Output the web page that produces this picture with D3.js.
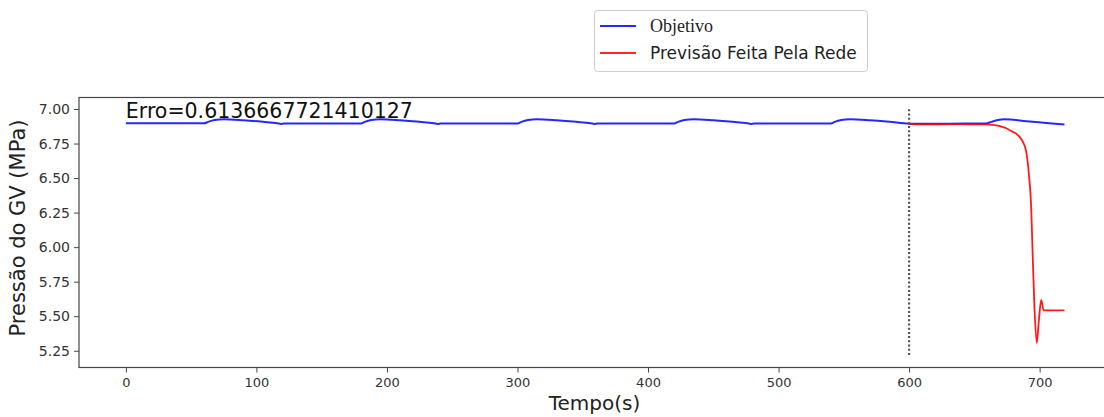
<!DOCTYPE html>
<html>
<head>
<meta charset="utf-8">
<script src="https://cdn.jsdelivr.net/npm/d3@7"></script>
<style>
  html, body { margin: 0; padding: 0; background: #fff; }
  svg { display: block; }
</style>
</head>
<body>
<svg id="chart" width="1104" height="417" font-family="'DejaVu Sans', sans-serif"></svg>
<script>
// Measured steam-generator pressure (target) over time
const objetivoT = [0, 60, 63, 68, 75, 90, 105, 116, 119, 121, 180, 183, 188, 195, 210, 225, 236, 239, 241,
                   300, 303, 308, 315, 330, 345, 356, 359, 361, 420, 423, 428, 435, 450, 465, 476, 479, 481,
                   540, 543, 548, 555, 570, 585, 600, 630, 659, 663, 668, 673, 690, 705, 719];
const objetivoV = [6.896, 6.896, 6.907, 6.920, 6.925, 6.918, 6.907, 6.897, 6.892, 6.895, 6.895, 6.907, 6.920, 6.925, 6.918, 6.907, 6.897, 6.892, 6.895,
                   6.895, 6.907, 6.920, 6.925, 6.918, 6.907, 6.897, 6.892, 6.895, 6.895, 6.907, 6.920, 6.925, 6.918, 6.907, 6.897, 6.892, 6.895,
                   6.895, 6.907, 6.920, 6.925, 6.918, 6.907, 6.894, 6.894, 6.895, 6.907, 6.920, 6.925, 6.912, 6.899, 6.887];

// Network prediction starting at t = 600 s
const previsaoT = [600, 610, 620, 630, 640, 650, 659, 669, 679.4, 684.5, 687.1, 689.7, 691.7, 693.5, 694.7, 696, 697.8, 699.5, 701.2, 703.1, 710, 719];
const previsaoV = [6.892, 6.888, 6.889, 6.890, 6.890, 6.889, 6.888, 6.877, 6.836, 6.800, 6.764, 6.691, 6.535, 6.294, 5.932, 5.570, 5.306, 5.48, 5.619, 5.542, 5.542, 5.542];

const xTicks = [0, 100, 200, 300, 400, 500, 600, 700];
const yTicks = [5.25, 5.50, 5.75, 6.00, 6.25, 6.50, 6.75, 7.00];
const splitTime = 600;
const splitRange = [5.22, 7.005];
const erroLabel = "Erro=0.6136667721410127";
const legendItems = [
  { label: "Objetivo", color: "#0000ff", serif: true },
  { label: "Previsão Feita Pela Rede", color: "#ff0000", serif: false }
];

const svg = d3.select("#chart");
const plot = { left: 79, right: 1110, top: 97.5, bottom: 367.5 };

const x = d3.scaleLinear().domain([-35.9, 753.9]).range([plot.left, plot.right]);
const y = d3.scaleLinear().domain([5.1288, 7.0832]).range([plot.bottom, plot.top]);

// Plot frame
svg.append("rect")
  .attr("x", plot.left).attr("y", plot.top)
  .attr("width", plot.right - plot.left).attr("height", plot.bottom - plot.top)
  .attr("fill", "none").attr("stroke", "#444").attr("stroke-width", 1.2);

// Axes
const xAxis = svg.append("g")
  .attr("transform", `translate(0,${plot.bottom})`)
  .call(d3.axisBottom(x).tickValues(xTicks).tickSize(5).tickPadding(5).tickFormat(d3.format("d")));
xAxis.select(".domain").remove();
xAxis.selectAll("line").attr("stroke", "#444");
xAxis.selectAll("text").attr("font-size", 13).attr("fill", "#333")
  .attr("font-family", "'DejaVu Sans', sans-serif");

const yAxis = svg.append("g")
  .attr("transform", `translate(${plot.left},0)`)
  .call(d3.axisLeft(y).tickValues(yTicks).tickSize(5).tickPadding(4).tickFormat(d3.format(".2f")));
yAxis.select(".domain").remove();
yAxis.selectAll("line").attr("stroke", "#444");
yAxis.selectAll("text").attr("font-size", 14).attr("fill", "#333")
  .attr("font-family", "'DejaVu Sans', sans-serif");

// Axis titles
svg.append("text")
  .attr("x", (plot.left + plot.right) / 2).attr("y", 410)
  .attr("text-anchor", "middle").attr("font-size", 20).attr("fill", "#222")
  .text("Tempo(s)");
svg.append("text")
  .attr("transform", "translate(25,228) rotate(-90)")
  .attr("text-anchor", "middle").attr("font-size", 21).attr("fill", "#222")
  .text("Pressão do GV (MPa)");

// Series lines
const line = d3.line().curve(d3.curveMonotoneX).x(d => x(d[0])).y(d => y(d[1]));
svg.append("path")
  .datum(objetivoT.map((t, i) => [t, objetivoV[i]]))
  .attr("d", line).attr("fill", "none")
  .attr("stroke", "#0000ff").attr("stroke-width", 2).attr("stroke-opacity", 0.85);

svg.append("path")
  .datum(previsaoT.map((t, i) => [t, previsaoV[i]]))
  .attr("d", line).attr("fill", "none")
  .attr("stroke", "#ff0000").attr("stroke-width", 1.8).attr("stroke-opacity", 0.9);

// Dotted marker at the start of the forecast
svg.append("line")
  .attr("x1", x(splitTime)).attr("x2", x(splitTime))
  .attr("y1", y(splitRange[0])).attr("y2", y(splitRange[1]))
  .attr("stroke", "#555").attr("stroke-width", 2.2).attr("stroke-dasharray", "2,2.2");

// Error annotation
svg.append("text")
  .attr("x", x(0)).attr("y", 118)
  .attr("font-size", 20.5).attr("fill", "#111")
  .text(erroLabel);

// Legend
const lg = svg.append("g");
lg.append("rect")
  .attr("x", 594.5).attr("y", 10.5).attr("width", 273).attr("height", 61).attr("rx", 3)
  .attr("fill", "#fff").attr("stroke", "#ccc").attr("stroke-width", 1);
legendItems.forEach((it, i) => {
  const cy = 26 + i * 27;
  lg.append("line")
    .attr("x1", 600).attr("x2", 636).attr("y1", cy).attr("y2", cy)
    .attr("stroke", it.color).attr("stroke-width", 2).attr("stroke-opacity", 0.85);
  lg.append("text")
    .attr("x", 650).attr("y", cy + 6)
    .attr("font-size", it.serif ? 18 : 17)
    .attr("font-family", it.serif ? "'Liberation Serif', serif" : "'DejaVu Sans', sans-serif")
    .attr("fill", "#222")
    .text(it.label);
});
</script>
</body>
</html>
